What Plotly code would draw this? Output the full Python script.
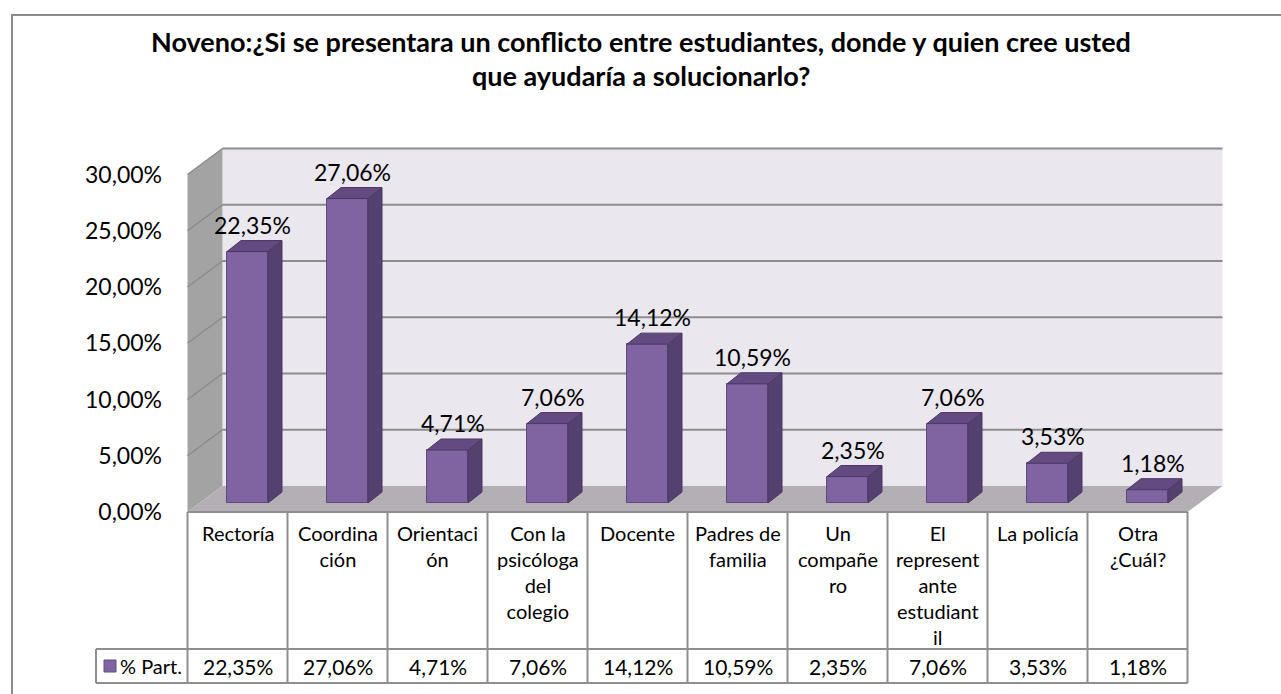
"""Noveno: 3D-looking column chart with Excel-style data table."""
import plotly.graph_objects as go

title_lines = [
    "Noveno:¿Si se presentara un conflicto entre estudiantes, donde y quien cree usted",
    "que ayudaría a solucionarlo?",
]
categories = [
    "Rectoría",
    "Coordina<br>ción",
    "Orientaci<br>ón",
    "Con la<br>psicóloga<br>del<br>colegio",
    "Docente",
    "Padres de<br>familia",
    "Un<br>compañe<br>ro",
    "El<br>represent<br>ante<br>estudiant<br>il",
    "La policía",
    "Otra<br>¿Cuál?",
]
values = [22.35, 27.06, 4.71, 7.06, 14.12, 10.59, 2.35, 7.06, 3.53, 1.18]
series_name = "% Part."
y_ticks = [0, 5, 10, 15, 20, 25, 30]

W, H = 1281, 694
FONT = "Lato"
PURPLE = "#8064A2"
SIDE = "#55416F"
TOP = "#634B82"
GRID = "#8C8C8C"

# pixel mapping (front plane): category i centre and 0 %
X0, Y0 = 237.5, 512
PXX, PXY = 100, 11.25
# bar plane and back wall offsets in data units
BX, BY = 0.1, 0.8
BAR_W = 0.41
DX, DY = 0.14, 0.98
WX, WY = 0.35, 2.31
YMAX = 30


def fmt(v):
    return f"{v:.2f}".replace(".", ",") + "%"


def py(p):
    return 1 - p / H


def path(pts):
    return "M " + " L ".join(f"{x},{y}" for x, y in pts) + " Z"


idx = list(range(len(values)))
n = len(values)

fig = go.Figure()

fig.add_trace(
    go.Bar(
        x=idx,
        y=values,
        base=BY,
        width=BAR_W,
        offset=-BAR_W / 2 + BX,
        marker=dict(color=PURPLE, line=dict(color="#5E4A7C", width=1)),
        name=series_name,
        showlegend=False,
    )
)

# side and top faces of the bars
sx, sy, tx, ty = [], [], [], []
for i, v in zip(idx, values):
    r = i + BX + BAR_W / 2
    l = i + BX - BAR_W / 2
    sx += [r, r + DX, r + DX, r, r, None]
    sy += [BY, BY + DY, BY + v + DY, BY + v, BY, None]
    tx += [l, r, r + DX, l + DX, l, None]
    ty += [BY + v, BY + v, BY + v + DY, BY + v + DY, BY + v, None]
fig.add_trace(go.Scatter(x=sx, y=sy, fill="toself", fillcolor=SIDE, mode="lines",
                         line=dict(color="#4A3863", width=1), showlegend=False, hoverinfo="skip"))
fig.add_trace(go.Scatter(x=tx, y=ty, fill="toself", fillcolor=TOP, mode="lines",
                         line=dict(color="#4A3863", width=1), showlegend=False, hoverinfo="skip"))

shapes = []
left, right = -0.5, n - 0.5
# back wall
shapes.append(dict(type="path", xref="x", yref="y", layer="below", line=dict(width=0),
                   fillcolor="#EAE7EF",
                   path=path([(left + WX, WY), (right + WX, WY), (right + WX, WY + YMAX), (left + WX, WY + YMAX)])))
# side wall
shapes.append(dict(type="path", xref="x", yref="y", layer="below", line=dict(width=0),
                   fillcolor="#A3A3A3",
                   path=path([(left, 0), (left + WX, WY), (left + WX, WY + YMAX), (left, YMAX)])))
# floor
shapes.append(dict(type="path", xref="x", yref="y", layer="below", line=dict(width=0),
                   fillcolor="#B4AFB5",
                   path=path([(left, 0), (right, 0), (right + WX, WY), (left + WX, WY)])))
# gridlines
for t in y_ticks[1:]:
    shapes.append(dict(type="line", xref="x", yref="y", layer="below",
                       x0=left + WX, x1=right + WX, y0=WY + t, y1=WY + t,
                       line=dict(color=GRID, width=2)))
    shapes.append(dict(type="line", xref="x", yref="y", layer="below",
                       x0=left, x1=left + WX, y0=t, y1=WY + t,
                       line=dict(color="#8A8A8A", width=1.5)))

# data table
TC = "#8E8E8E"
row_top, row_mid, row_bot = 512, 649, 683
shapes.append(dict(type="line", xref="x", yref="paper", x0=left, x1=right,
                   y0=py(row_top), y1=py(row_top), line=dict(color=TC, width=2)))
shapes.append(dict(type="line", xref="paper", yref="paper", x0=96 / W, x1=(X0 + PXX * (right)) / W,
                   y0=py(row_mid), y1=py(row_mid), line=dict(color=TC, width=2)))
shapes.append(dict(type="line", xref="paper", yref="paper", x0=96 / W, x1=(X0 + PXX * (right)) / W,
                   y0=py(row_bot), y1=py(row_bot), line=dict(color=TC, width=2)))
shapes.append(dict(type="line", xref="paper", yref="paper", x0=96 / W, x1=96 / W,
                   y0=py(row_mid), y1=py(row_bot), line=dict(color=TC, width=2)))
for k in range(n + 1):
    shapes.append(dict(type="line", xref="x", yref="paper", x0=left + k, x1=left + k,
                       y0=py(row_top), y1=py(row_bot), line=dict(color=TC, width=2)))
# legend key
shapes.append(dict(type="rect", xref="paper", yref="paper", x0=104 / W, x1=116 / W,
                   y0=py(672), y1=py(660), fillcolor=PURPLE, line=dict(color="#5E4A7C", width=1)))
# outer chart frame
shapes.append(dict(type="rect", xref="paper", yref="paper", x0=12 / W, x1=1.05,
                   y0=-0.05, y1=py(15), line=dict(color="#8C8C8C", width=2)))

annotations = []
for i, v in zip(idx, values):
    annotations.append(dict(x=i + BX + DX / 2 - 0.02, y=BY + v + DY, xref="x", yref="y",
                            text=fmt(v), showarrow=False, yanchor="bottom", yshift=0,
                            font=dict(family=FONT, size=23, color="black")))
    annotations.append(dict(x=i, y=py(row_top + 7), xref="x", yref="paper",
                            text=categories[i], showarrow=False, yanchor="top",
                            font=dict(family=FONT, size=20, color="black")))
    annotations.append(dict(x=i, y=py((row_mid + row_bot) / 2), xref="x", yref="paper",
                            text=fmt(v), showarrow=False, yanchor="middle",
                            font=dict(family=FONT, size=21, color="black")))
annotations.append(dict(x=118 / W, y=py((row_mid + row_bot) / 2), xref="paper", yref="paper",
                        text=series_name, showarrow=False, xanchor="left", yanchor="middle",
                        font=dict(family=FONT, size=20, color="black")))
for k, line in enumerate(title_lines):
    annotations.append(dict(x=0.5, y=py(42 + 33 * k), xref="paper", yref="paper",
                            text=f"<b>{line}</b>", showarrow=False, yanchor="middle",
                            font=dict(family=FONT, size=27, color="black")))

fig.update_layout(
    width=W,
    height=H,
    margin=dict(l=0, r=0, t=0, b=0),
    paper_bgcolor="white",
    plot_bgcolor="white",
    shapes=shapes,
    annotations=annotations,
    xaxis=dict(range=[-X0 / PXX, (W - X0) / PXX], domain=[0, 1], visible=False, fixedrange=True),
    yaxis=dict(
        range=[-(H - Y0) / PXY, Y0 / PXY],
        domain=[0, 1],
        anchor="free",
        position=162 / W,
        tickvals=y_ticks,
        ticktext=[fmt(t) for t in y_ticks],
        showgrid=False,
        zeroline=False,
        showline=False,
        ticks="",
        tickfont=dict(family=FONT, size=23, color="black"),
        fixedrange=True,
    ),
    bargap=0,
)

fig.write_html("out.html", config={"displayModeBar": False},
               post_script="document.body.style.margin='0';")
